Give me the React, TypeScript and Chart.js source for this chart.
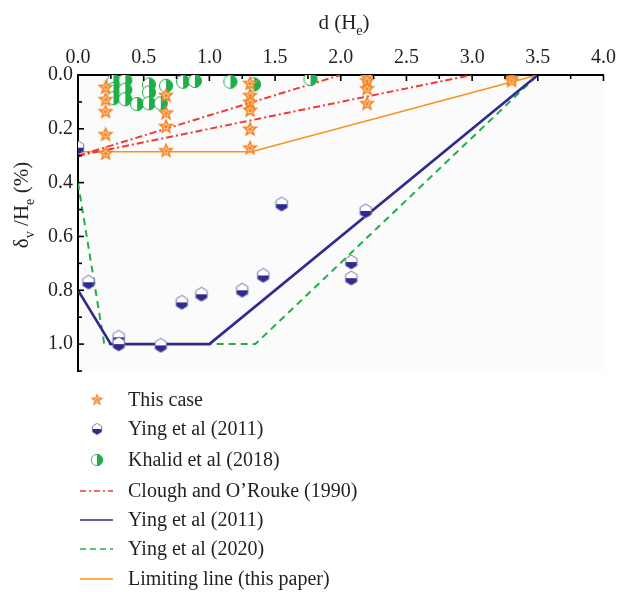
import React, { useEffect, useRef } from 'react';
import { Chart, registerables } from 'chart.js';

Chart.register(...registerables);

// ---------- data ----------
const xTickValues = [0, 0.5, 1, 1.5, 2, 2.5, 3, 3.5, 4];
const yTickValues = [0, 0.2, 0.4, 0.6, 0.8, 1.0];

const thisCaseD = [0.21, 0.21, 0.21, 0.21, 0.21, 0.67, 0.67, 0.67, 0.67, 1.31, 1.31, 1.31, 1.31, 1.31, 1.31, 2.2, 2.2, 2.2, 2.2, 3.3, 3.3];
const thisCaseV = [0.045, 0.09, 0.135, 0.22, 0.29, 0.075, 0.14, 0.19, 0.28, 0.03, 0.075, 0.1, 0.13, 0.2, 0.27, 0.005, 0.02, 0.05, 0.105, 0.01, 0.02];

const ying2011PtsD = [0.0, 0.08, 0.31, 0.31, 0.63, 0.79, 0.94, 1.25, 1.41, 1.55, 2.08, 2.08, 2.19];
const ying2011PtsV = [0.27, 0.77, 0.975, 1.0, 1.005, 0.845, 0.815, 0.8, 0.745, 0.48, 0.695, 0.755, 0.505];

const khalidD = [0.27, 0.27, 0.27, 0.36, 0.36, 0.36, 0.45, 0.54, 0.54, 0.54, 0.63, 0.67, 0.8, 0.89, 1.16, 1.34, 1.77];
const khalidV = [0.022, 0.052, 0.086, 0.02, 0.055, 0.09, 0.108, 0.035, 0.065, 0.105, 0.105, 0.04, 0.025, 0.022, 0.025, 0.035, 0.015];

const cloughAD = [0, 2.0];
const cloughAV = [0.3, 0];
const cloughBD = [0, 3.0];
const cloughBV = [0.3, 0];

const ying2011LineD = [0, 0.25, 1.0, 3.5];
const ying2011LineV = [0.8, 1.0, 1.0, 0];

const ying2020LineD = [0, 0.2, 1.35, 3.5];
const ying2020LineV = [0.4, 1.0, 1.0, 0];

const limitingD = [0, 1.32, 3.5];
const limitingV = [0.285, 0.285, 0];

const legendLabels = [
  'This case',
  'Ying et al (2011)',
  'Khalid et al (2018)',
  'Clough and O\u2019Rouke (1990)',
  'Ying et al (2011)',
  'Ying et al (2020)',
  'Limiting line (this paper)',
];

// ---------- styles ----------
const ORANGE = '#f4811f';
const NAVY = '#2f2b8c';
const GREEN = '#1fae4a';
const RED = '#ef3b33';
const LORANGE = '#f7931e';
const FONT = '"Liberation Serif", "Times New Roman", serif';

const toPts = (xs: number[], ys: number[]) => xs.map((x, i) => ({ x, y: ys[i] }));

function makeStar(): HTMLCanvasElement {
  const c = document.createElement('canvas');
  c.width = 18; c.height = 18;
  const g = c.getContext('2d')!;
  const path = (ro: number, ri: number) => {
    g.beginPath();
    for (let i = 0; i < 10; i++) {
      const r = i % 2 === 0 ? ro : ri;
      const a = -Math.PI / 2 + (i * Math.PI) / 5;
      const px = 9 + r * Math.cos(a);
      const py = 9.5 + r * Math.sin(a);
      if (i === 0) g.moveTo(px, py); else g.lineTo(px, py);
    }
    g.closePath();
  };
  path(8.6, 3.7);
  g.fillStyle = ORANGE;
  g.fill();
  path(3.6, 1.6);
  g.strokeStyle = 'rgba(255,230,200,0.9)';
  g.lineWidth = 0.8;
  g.stroke();
  return c;
}

function makeHex(): HTMLCanvasElement {
  const c = document.createElement('canvas');
  c.width = 16; c.height = 16;
  const g = c.getContext('2d')!;
  const path = () => {
    g.beginPath();
    for (let i = 0; i < 6; i++) {
      const a = -Math.PI / 2 + (i * Math.PI) / 3;
      const px = 8 + 6.6 * Math.cos(a);
      const py = 8 + 7 * Math.sin(a);
      if (i === 0) g.moveTo(px, py); else g.lineTo(px, py);
    }
    g.closePath();
  };
  path();
  g.fillStyle = '#ffffff';
  g.fill();
  g.save();
  g.beginPath();
  g.rect(0, 8, 16, 8);
  g.clip();
  path();
  g.fillStyle = NAVY;
  g.fill();
  g.restore();
  path();
  g.strokeStyle = '#6f6bb5';
  g.lineWidth = 1;
  g.stroke();
  return c;
}

function makeHalfCircle(): HTMLCanvasElement {
  const c = document.createElement('canvas');
  c.width = 16; c.height = 16;
  const g = c.getContext('2d')!;
  g.beginPath();
  g.arc(8, 8, 6.6, 0, Math.PI * 2);
  g.fillStyle = '#ffffff';
  g.fill();
  g.beginPath();
  g.moveTo(8, 1.4);
  g.arc(8, 8, 6.6, -Math.PI / 2, Math.PI / 2);
  g.closePath();
  g.fillStyle = GREEN;
  g.fill();
  g.beginPath();
  g.arc(8, 8, 6.6, 0, Math.PI * 2);
  g.strokeStyle = GREEN;
  g.lineWidth = 1;
  g.stroke();
  return c;
}

function drawSubText(ctx: CanvasRenderingContext2D, parts: [string, boolean][], x: number, y: number, size: number) {
  const sub = size * 0.68;
  let total = 0;
  const widths: number[] = [];
  for (const [t, s] of parts) {
    ctx.font = `${s ? sub : size}px ${FONT}`;
    const w = ctx.measureText(t).width;
    widths.push(w);
    total += w;
  }
  let cx = x - total / 2;
  ctx.textAlign = 'left';
  ctx.textBaseline = 'alphabetic';
  parts.forEach(([t, s], i) => {
    ctx.font = `${s ? sub : size}px ${FONT}`;
    ctx.fillText(t, cx, s ? y + size * 0.3 : y);
    cx += widths[i];
  });
}

export default function App() {
  const ref = useRef<HTMLCanvasElement | null>(null);

  useEffect(() => {
    const canvas = ref.current;
    if (!canvas) return;
    const star = makeStar();
    const hex = makeHex();
    const half = makeHalfCircle();

    const bgPlugin = {
      id: 'bg',
      beforeDraw(chart: any) {
        const { ctx, chartArea: a } = chart;
        ctx.save();
        ctx.fillStyle = '#ffffff';
        ctx.fillRect(0, 0, chart.width, chart.height);
        ctx.fillStyle = '#fbfbfb';
        ctx.fillRect(a.left, a.top, a.right - a.left, a.bottom - a.top);
        ctx.restore();
      },
    };

    const decoPlugin = {
      id: 'deco',
      afterDraw(chart: any) {
        const { ctx, chartArea: a, scales } = chart;
        const xs = scales.x;
        const ys = scales.y;
        ctx.save();
        ctx.strokeStyle = '#000';
        ctx.lineWidth = 1.6;
        for (let i = 0; i <= 16; i++) {
          const px = xs.getPixelForValue(i * 0.25);
          const len = i % 2 === 0 ? 6 : 4;
          ctx.beginPath();
          ctx.moveTo(px, a.top);
          ctx.lineTo(px, a.top + len);
          ctx.stroke();
        }
        for (let i = 0; i <= 11; i++) {
          const py = ys.getPixelForValue(i * 0.1);
          const len = i % 2 === 0 ? 6 : 4;
          ctx.beginPath();
          ctx.moveTo(a.left, py);
          ctx.lineTo(a.left + len, py);
          ctx.stroke();
        }
        // axis titles
        ctx.fillStyle = '#231f20';
        drawSubText(ctx, [['d (H', false], ['e', true], [')', false]], 344, 29, 21);
        ctx.save();
        ctx.translate(28, 205);
        ctx.rotate(-Math.PI / 2);
        drawSubText(ctx, [['\u03b4', false], ['v', true], [' /H', false], ['e', true], [' (%)', false]], 0, 0, 21);
        ctx.restore();

        // legend
        const rows = [400, 429, 460, 491, 520, 549, 579];
        const lx0 = 80, lx1 = 113, tx = 128;
        ctx.drawImage(star, 97 - 7, rows[0] - 7.5, 14, 14);
        ctx.drawImage(hex, 97 - 6.5, rows[1] - 6.5, 13, 13);
        ctx.drawImage(half, 97 - 7, rows[2] - 7, 14, 14);
        const lineStyles: [string, number, number[]][] = [
          [RED, 1.5, [6, 3, 2, 3]],
          [NAVY, 1.5, []],
          [GREEN, 1.5, [6, 4]],
          [LORANGE, 1.5, []],
        ];
        lineStyles.forEach(([col, w, dash], i) => {
          const y = rows[3 + i];
          ctx.beginPath();
          ctx.setLineDash(dash);
          ctx.strokeStyle = col;
          ctx.lineWidth = w;
          ctx.moveTo(lx0, y);
          ctx.lineTo(lx1, y);
          ctx.stroke();
        });
        ctx.setLineDash([]);
        ctx.font = `20px ${FONT}`;
        ctx.fillStyle = '#231f20';
        ctx.textAlign = 'left';
        ctx.textBaseline = 'middle';
        legendLabels.forEach((t, i) => ctx.fillText(t, tx, rows[i] + 1));
        ctx.restore();
      },
    };

    const tickFont = { family: FONT, size: 20 };

    const chart = new Chart(canvas, {
      type: 'scatter',
      data: {
        datasets: [
          { label: legendLabels[0], data: toPts(thisCaseD, thisCaseV), pointStyle: star as any, pointRadius: 8 },
          { label: legendLabels[1], data: toPts(ying2011PtsD, ying2011PtsV), pointStyle: hex as any, pointRadius: 8 },
          { label: legendLabels[2], data: toPts(khalidD, khalidV), pointStyle: half as any, pointRadius: 8 },
          { label: legendLabels[3], data: toPts(cloughAD, cloughAV), showLine: true, pointRadius: 0, borderColor: RED, borderWidth: 2, borderDash: [7, 3, 2, 3], fill: false },
          { label: legendLabels[3] + ' b', data: toPts(cloughBD, cloughBV), showLine: true, pointRadius: 0, borderColor: RED, borderWidth: 2, borderDash: [7, 3, 2, 3], fill: false },
          { label: legendLabels[4], data: toPts(ying2011LineD, ying2011LineV), showLine: true, pointRadius: 0, borderColor: NAVY, borderWidth: 2.6, fill: false },
          { label: legendLabels[5], data: toPts(ying2020LineD, ying2020LineV), showLine: true, pointRadius: 0, borderColor: GREEN, borderWidth: 2, borderDash: [7, 5], fill: false },
          { label: legendLabels[6], data: toPts(limitingD, limitingV), showLine: true, pointRadius: 0, borderColor: LORANGE, borderWidth: 1.6, fill: false },
        ] as any,
      },
      options: {
        animation: false,
        responsive: false,
        maintainAspectRatio: false,
        layout: { padding: { left: 0, top: 0, right: 14, bottom: 221 } },
        plugins: { legend: { display: false }, tooltip: { enabled: false } },
        scales: {
          x: {
            type: 'linear',
            position: 'top',
            min: 0,
            max: 4,
            afterBuildTicks: (s: any) => { s.ticks = xTickValues.map((v) => ({ value: v })); },
            ticks: { font: tickFont, color: '#231f20', padding: 5, includeBounds: false, maxRotation: 0, autoSkip: false, callback: (v: any) => Number(v).toFixed(1) },
            grid: { display: false, drawTicks: false },
            border: { display: true, color: '#000', width: 2 },
            afterFit: (s: any) => { s.height = 75; },
          },
          y: {
            type: 'linear',
            reverse: true,
            min: 0,
            max: 1.1,
            afterBuildTicks: (s: any) => { s.ticks = yTickValues.map((v) => ({ value: v })); },
            ticks: { font: tickFont, color: '#231f20', padding: 5, includeBounds: false, autoSkip: false, callback: (v: any) => Number(v).toFixed(1) },
            grid: { display: false, drawTicks: false },
            border: { display: true, color: '#000', width: 2 },
            afterFit: (s: any) => { s.width = 78; },
          },
        },
      } as any,
      plugins: [bgPlugin, decoPlugin],
    });
    return () => chart.destroy();
  }, []);

  return (
    <div style={{ position: 'fixed', left: 0, top: 0, width: 621, height: 592, background: '#fff' }}>
      <canvas ref={ref} width={621} height={592} style={{ display: 'block', width: 621, height: 592 }} />
    </div>
  );
}
